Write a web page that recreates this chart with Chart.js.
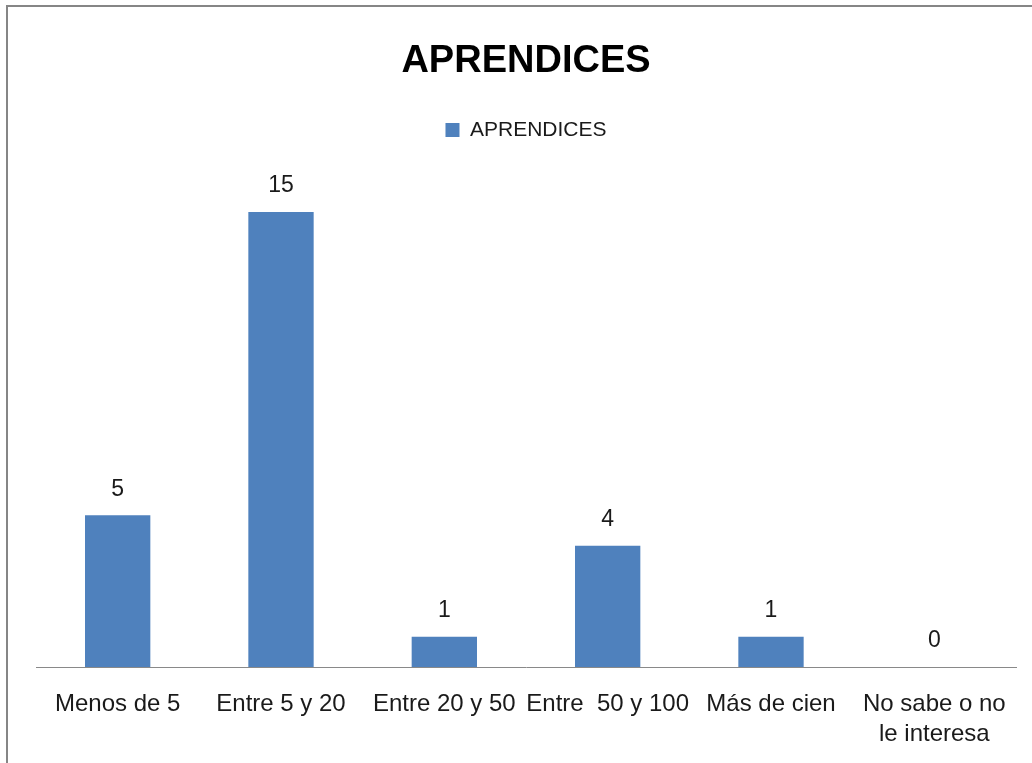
<!DOCTYPE html>
<html>
<head>
<meta charset="utf-8">
<script src="https://cdn.jsdelivr.net/npm/chart.js@4"></script>
<style>
  html, body { margin: 0; padding: 0; background: #fff; }
  #marco {
    position: absolute; left: 6px; top: 5px; width: 1100px; height: 800px;
    border-left: 2px solid #868686; border-top: 2px solid #868686;
  }
  #lienzo { position: absolute; left: 0; top: 0; width: 1032px; height: 763px; }
</style>
</head>
<body>
<div id="marco"></div>
<div id="lienzo"><canvas id="grafico" width="1032" height="763"></canvas></div>
<script>
// Datos del gráfico
const categorias = ['Menos de 5', 'Entre 5 y 20', 'Entre 20 y 50', 'Entre  50 y 100', 'Más de cien', ['No sabe o no', 'le interesa']];
const aprendices = [5, 15, 1, 4, 1, 0];
const nombreSerie = 'APRENDICES';

const fuente = "'Liberation Sans', Arial, sans-serif";

// Etiquetas de valor encima de cada barra
const etiquetasValor = {
    id: 'etiquetasValor',
    afterDatasetsDraw(chart) {
        const ctx = chart.ctx;
        const meta = chart.getDatasetMeta(0);
        ctx.save();
        ctx.font = '23px ' + fuente;
        ctx.fillStyle = '#1a1a1a';
        ctx.textAlign = 'center';
        ctx.textBaseline = 'middle';
        meta.data.forEach((barra, i) => {
            ctx.fillText(String(aprendices[i]), barra.x, barra.y - 26);
        });
        ctx.restore();
    }
};

// Espacio extra debajo de la leyenda (como en Excel)
const espacioLeyenda = {
    id: 'espacioLeyenda',
    afterInit(chart) {
        const leyenda = chart.legend;
        if (!leyenda) return;
        const fitOriginal = leyenda.fit.bind(leyenda);
        leyenda.fit = function () {
            fitOriginal();
            this.height += 31;
        };
    }
};

new Chart(document.getElementById('grafico'), {
    type: 'bar',
    data: {
        labels: categorias,
        datasets: [{
            label: nombreSerie,
            data: aprendices,
            backgroundColor: '#4F81BD',
            barPercentage: 0.4,
            categoryPercentage: 1
        }]
    },
    options: {
        responsive: false,
        animation: false,
        layout: { padding: { top: 10, left: 36, right: 16, bottom: 0 } },
        plugins: {
            title: {
                display: true,
                text: 'APRENDICES',
                color: '#000',
                font: { family: fuente, size: 38, weight: 'bold' },
                padding: { top: 29, bottom: 13 }
            },
            legend: {
                labels: {
                    color: '#1a1a1a',
                    font: { family: fuente, size: 21 },
                    boxWidth: 14,
                    boxHeight: 14,
                    padding: 22
                }
            },
            tooltip: { enabled: false }
        },
        scales: {
            x: {
                grid: { display: false },
                border: { display: true, color: '#898989', width: 1 },
                ticks: {
                    color: '#1a1a1a',
                    font: { family: fuente, size: 24, lineHeight: 1.25 },
                    autoSkip: false,
                    maxRotation: 0,
                    padding: 14
                }
            },
            y: {
                display: false,
                min: 0,
                max: 16
            }
        }
    },
    plugins: [etiquetasValor, espacioLeyenda]
});
</script>
</body>
</html>
